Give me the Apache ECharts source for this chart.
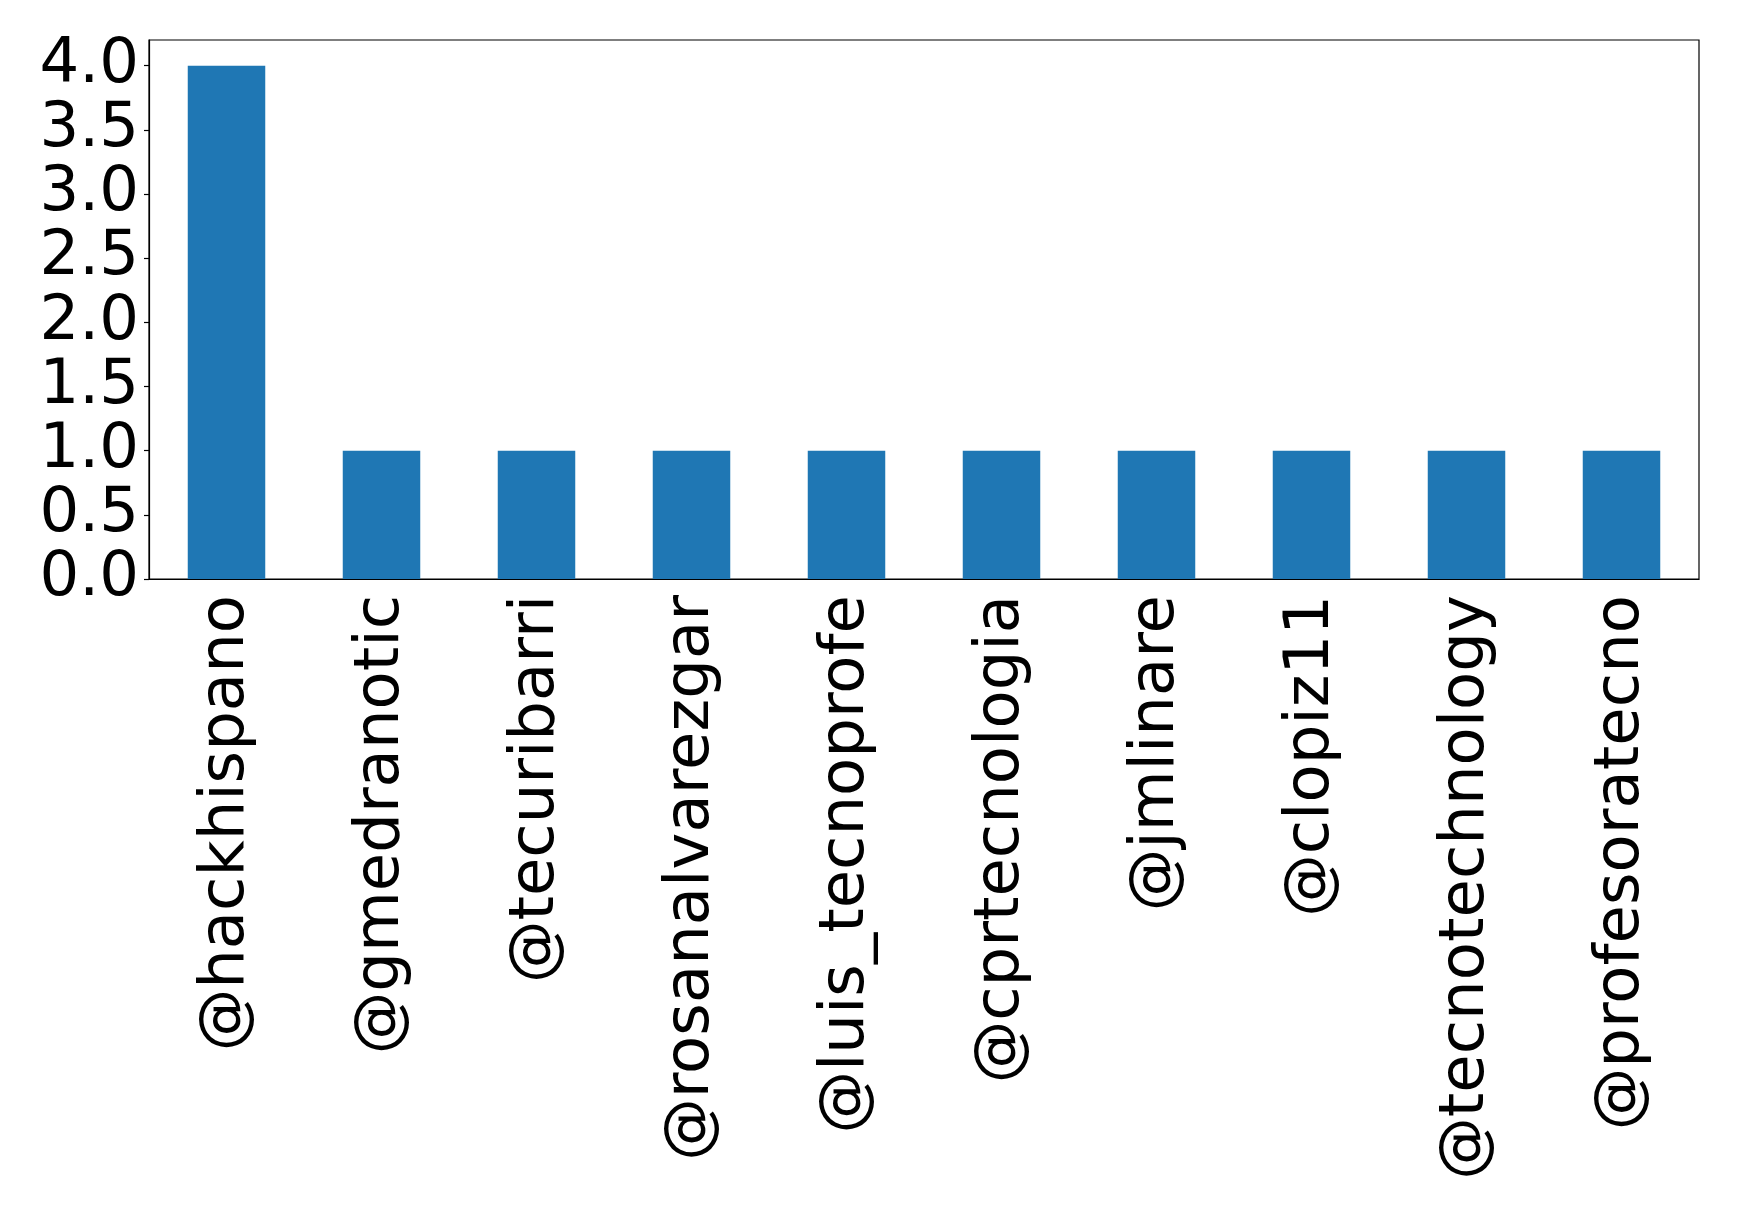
<!DOCTYPE html>
<html>
<head>
<meta charset="utf-8">
<script src="https://cdn.jsdelivr.net/npm/echarts@6/dist/echarts.min.js"></script>
<style>
html,body{margin:0;padding:0;background:#fff;}
#c{width:1739px;height:1213px;}
</style>
</head>
<body>
<div id="c"></div>
<script>
const categories = ['@hackhispano','@gmedranotic','@tecuribarri','@rosanalvarezgar','@luis_tecnoprofe','@cprtecnologia','@jmlinare','@clopiz11','@tecnotechnology','@profesoratecno'];
const values = [4,1,1,1,1,1,1,1,1,1];
const yTicks = [0,0.5,1.0,1.5,2.0,2.5,3.0,3.5,4.0];

const chart = echarts.init(document.getElementById('c'));
const font = 'DejaVu Sans';
chart.setOption({
  animation:false,
  backgroundColor:'#fff',
  grid:{left:149,right:40,top:40,bottom:634,show:true,borderColor:'#000',borderWidth:1.2,backgroundColor:'transparent'},
  xAxis:{
    type:'category',
    data:categories,
    boundaryGap:true,
    axisLine:{lineStyle:{color:'#000',width:1.2}},
    axisTick:{alignWithLabel:true,length:5,lineStyle:{color:'#000',width:1.2}},
    axisLabel:{rotate:90,interval:0,margin:16,fontFamily:font,fontSize:62.5,color:'#000'}
  },
  yAxis:{
    type:'value',
    min:0,max:4.2,
    splitLine:{show:false},
    axisLine:{show:true,lineStyle:{color:'#000',width:1.2}},
    axisTick:{show:true,length:5,customValues:yTicks,lineStyle:{color:'#000',width:1.2}},
    axisLabel:{customValues:yTicks,margin:10,fontFamily:font,fontSize:62.5,color:'#000',formatter:v=>v.toFixed(1)}
  },
  series:[{type:'bar',data:values,barWidth:'50%',itemStyle:{color:'#1f77b4'}}]
});
</script>
</body>
</html>
